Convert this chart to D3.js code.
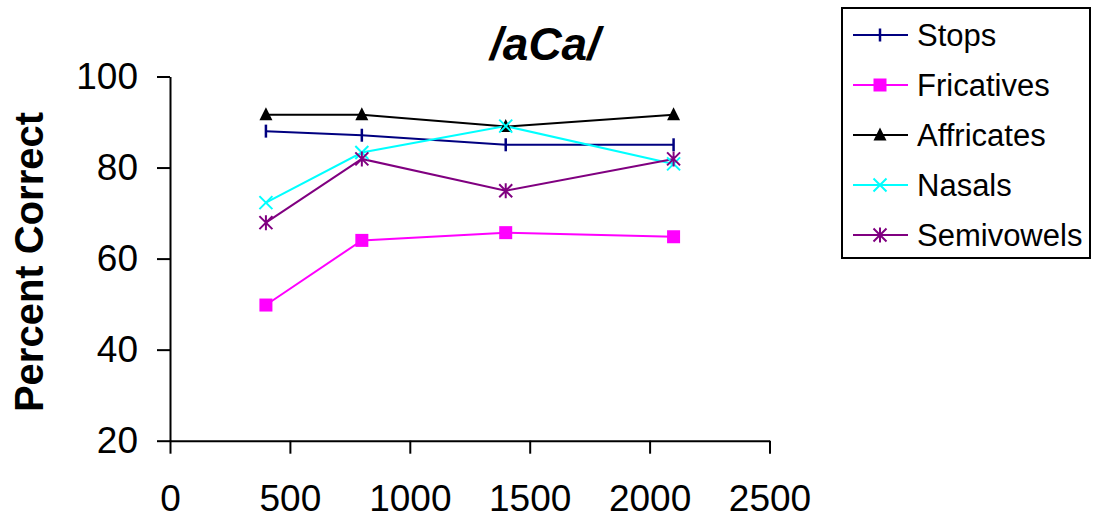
<!DOCTYPE html>
<html>
<head>
<meta charset="utf-8">
<script src="https://cdn.jsdelivr.net/npm/d3@7"></script>
<style>
  body { margin: 0; background: #fff; }
  svg { display: block; font-family: "Liberation Sans", Arial, sans-serif; }
</style>
</head>
<body>
<div id="chart"></div>
<script>
// data
const frequencies = [400, 800, 1400, 2100];
const seriesNames = ["Stops", "Fricatives", "Affricates", "Nasals", "Semivowels"];
const stops = [88.0, 87.1, 85.0, 85.0];
const fricatives = [49.8, 64.0, 65.7, 64.8];
const affricates = [91.6, 91.6, 89.0, 91.6];
const nasals = [72.3, 83.3, 89.1, 80.8];
const semivowels = [67.9, 81.9, 74.9, 81.9];
const xTicks = [0, 500, 1000, 1500, 2000, 2500];
const yTicks = [20, 40, 60, 80, 100];

const colors = ["#000080", "#ff00ff", "#000000", "#00ffff", "#800080"];
const markers = ["tick", "square", "triangle", "cross", "star"];

const width = 1100, height = 518;
const plot = { left: 170, right: 769.5, top: 76.5, bottom: 440.7 };

const svg = d3.select('#chart')
    .append('svg')
    .attr('width', width)
    .attr('height', height);

const x = d3.scaleLinear().domain([0, 2500]).range([plot.left, plot.right]);
const y = d3.scaleLinear().domain([20, 100]).range([plot.bottom, plot.top]);

// axes
const yAxis = svg.append('g')
    .attr('transform', `translate(${plot.left},0)`)
    .call(d3.axisLeft(y).tickValues(yTicks).tickSize(13).tickSizeOuter(0).tickPadding(19));
const xAxis = svg.append('g')
    .attr('transform', `translate(0,${plot.bottom})`)
    .call(d3.axisBottom(x).tickValues(xTicks).tickFormat(d3.format('d'))
        .tickSize(13).tickSizeOuter(0).tickPadding(31));

[yAxis, xAxis].forEach(ax => {
    ax.selectAll('path, line').attr('stroke', '#000').attr('stroke-width', 2);
    ax.selectAll('text')
        .attr('fill', '#000')
        .style('font-size', '37px');
});

// titles
svg.append('text')
    .attr('x', 545)
    .attr('y', 60)
    .attr('text-anchor', 'middle')
    .style('font-size', '46px')
    .style('font-weight', 'bold')
    .style('font-style', 'italic')
    .text('/aCa/');

svg.append('text')
    .attr('transform', 'translate(43,262) rotate(-90)')
    .attr('text-anchor', 'middle')
    .style('font-size', '40px')
    .style('font-weight', 'bold')
    .text('Percent Correct');

function drawMarker(g, type, color) {
    const s = 6.5;
    if (type === 'tick') {
        g.append('line').attr('x1', 0).attr('x2', 0).attr('y1', -s).attr('y2', s)
            .attr('stroke', color).attr('stroke-width', 2.5);
    } else if (type === 'square') {
        g.append('rect').attr('x', -s).attr('y', -s).attr('width', 2 * s).attr('height', 2 * s)
            .attr('fill', color);
    } else if (type === 'triangle') {
        g.append('path').attr('d', `M0,${-s - 1}L${s},${s - 1}L${-s},${s - 1}Z`).attr('fill', color);
    } else if (type === 'cross') {
        g.append('path').attr('d', `M${-s},${-s}L${s},${s}M${-s},${s}L${s},${-s}`)
            .attr('stroke', color).attr('stroke-width', 2);
    } else if (type === 'star') {
        g.append('path').attr('d', `M${-s},${-s}L${s},${s}M${-s},${s}L${s},${-s}M0,${-s - 1}L0,${s + 1}`)
            .attr('stroke', color).attr('stroke-width', 2);
    }
}

const allSeries = [stops, fricatives, affricates, nasals, semivowels];
const line = d3.line().x((d, i) => x(frequencies[i])).y(d => y(d));

allSeries.forEach((vals, k) => {
    svg.append('path')
        .attr('d', line(vals))
        .attr('fill', 'none')
        .attr('stroke', colors[k])
        .attr('stroke-width', 2);
});
allSeries.forEach((vals, k) => {
    vals.forEach((v, i) => {
        const g = svg.append('g').attr('transform', `translate(${x(frequencies[i])},${y(v)})`);
        drawMarker(g, markers[k], colors[k]);
    });
});

// legend
const legend = svg.append('g');
legend.append('rect')
    .attr('x', 842).attr('y', 8).attr('width', 248).attr('height', 250)
    .attr('fill', '#fff').attr('stroke', '#000').attr('stroke-width', 2);

seriesNames.forEach((name, k) => {
    const ly = 35 + k * 50;
    legend.append('line')
        .attr('x1', 853).attr('x2', 908).attr('y1', ly).attr('y2', ly)
        .attr('stroke', colors[k]).attr('stroke-width', 2);
    drawMarker(legend.append('g').attr('transform', `translate(880,${ly})`), markers[k], colors[k]);
    legend.append('text')
        .attr('x', 917).attr('y', ly)
        .attr('dy', '0.36em')
        .style('font-size', '31px')
        .text(name);
});
</script>
</body>
</html>
